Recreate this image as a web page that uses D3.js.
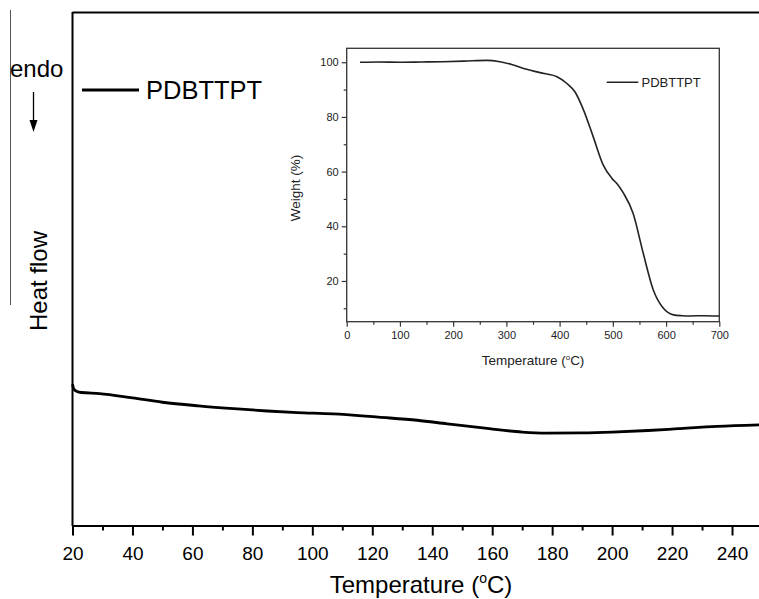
<!DOCTYPE html>
<html>
<head>
<meta charset="utf-8">
<script src="https://cdn.jsdelivr.net/npm/d3@7"></script>
<style>
  html, body { margin: 0; padding: 0; background: #fff; }
  svg { display: block; font-family: "Liberation Sans", Arial, sans-serif; }
</style>
</head>
<body>
<svg id="chart" width="759" height="599"></svg>
<script>
// DSC trace (main plot): temperature in °C, heat flow in arbitrary normalised units
const dscTemp = [20, 20.5, 21.5, 23, 29, 40, 50, 62, 75, 85, 95, 107, 122, 135, 145, 159, 170, 178, 190, 200, 212, 222, 235, 249];
const dscHeat = [27.5, 26.5, 26.1, 25.9, 25.7, 24.85, 24.0, 23.3, 22.7, 22.3, 22.0, 21.75, 21.1, 20.5, 19.8, 18.85, 18.2, 18.0, 18.05, 18.2, 18.5, 18.85, 19.3, 19.6];

// TGA trace (inset): temperature in °C, weight in %
const tgaTemp = [25, 60, 100, 140, 180, 220, 263, 288, 310, 338, 363, 395, 412, 429, 445, 463, 482, 498, 509, 520, 538, 557, 576, 595, 614, 630, 645, 670, 700];
const tgaWeight = [100, 100.1, 100.0, 100.1, 100.2, 100.4, 100.7, 100.2, 99.2, 97.4, 96.2, 94.7, 92.5, 89.1, 82.5, 72.8, 62.4, 57.6, 55.3, 52.1, 44.8, 30.2, 16.7, 10.0, 7.6, 7.3, 7.2, 7.3, 7.2];

// Tick values
const mainMajorTicks = [20, 40, 60, 80, 100, 120, 140, 160, 180, 200, 220, 240];
const mainMinorTicks = [30, 50, 70, 90, 110, 130, 150, 170, 190, 210, 230];
const insetXMajor = [0, 100, 200, 300, 400, 500, 600, 700];
const insetXMinor = [50, 150, 250, 350, 450, 550, 650];
const insetYMajor = [20, 40, 60, 80, 100];
const insetYMinor = [10, 30, 50, 70, 90];

const seriesName = "PDBTTPT";

const svg = d3.select("#chart");

// ---------- main DSC plot ----------
const x = d3.scaleLinear().domain([20, 249]).range([72.5, 759]);
const y = d3.scaleLinear().domain([0, 100]).range([525.5, 12]);

// stray frame line at far left
svg.append("line")
  .attr("x1", 10.5).attr("x2", 10.5).attr("y1", 10).attr("y2", 305)
  .attr("stroke", "#555").attr("stroke-width", 1);

// top frame line
svg.append("line")
  .attr("x1", 72.5).attr("x2", 759).attr("y1", 12.5).attr("y2", 12.5)
  .attr("stroke", "#000").attr("stroke-width", 2);

// left axis line
svg.append("line")
  .attr("x1", 72.5).attr("x2", 72.5).attr("y1", 12).attr("y2", 526)
  .attr("stroke", "#000").attr("stroke-width", 2);

// bottom axis: major ticks with labels
const xAxisMajor = svg.append("g")
  .attr("transform", "translate(0,525.5)")
  .call(d3.axisBottom(x).tickValues(mainMajorTicks).tickSize(10).tickSizeOuter(0).tickPadding(11));
xAxisMajor.select(".domain").attr("stroke-width", 2);
xAxisMajor.selectAll(".tick line").attr("stroke-width", 2);
xAxisMajor.selectAll("text").attr("font-size", 19).attr("fill", "#000")
  .attr("font-family", "Liberation Sans, Arial, sans-serif");

// bottom axis: minor ticks
const xAxisMinor = svg.append("g")
  .attr("transform", "translate(0,525.5)")
  .call(d3.axisBottom(x).tickValues(mainMinorTicks).tickSize(5).tickSizeOuter(0).tickFormat(""));
xAxisMinor.select(".domain").remove();
xAxisMinor.selectAll(".tick line").attr("stroke-width", 2);

// axis titles
const xTitle = svg.append("text")
  .attr("x", 421).attr("y", 593)
  .attr("text-anchor", "middle").attr("font-size", 24).attr("fill", "#000");
xTitle.append("tspan").text("Temperature (");
xTitle.append("tspan").attr("font-size", 14).attr("dy", -10).text("o");
xTitle.append("tspan").attr("dy", 10).text("C)");

svg.append("text")
  .attr("transform", "translate(46.5,281) rotate(-90)")
  .attr("text-anchor", "middle").attr("font-size", 24).attr("fill", "#000")
  .text("Heat flow");

// endo annotation with downward arrow
svg.append("text")
  .attr("x", 10).attr("y", 76.5)
  .attr("font-size", 24).attr("fill", "#000").text("endo");
svg.append("line")
  .attr("x1", 33.5).attr("x2", 33.5).attr("y1", 92).attr("y2", 124)
  .attr("stroke", "#000").attr("stroke-width", 1.3);
svg.append("path")
  .attr("d", "M29.5,120 L37.5,120 L33.5,132 Z")
  .attr("fill", "#000");

// legend
svg.append("line")
  .attr("x1", 82).attr("x2", 139).attr("y1", 90).attr("y2", 90)
  .attr("stroke", "#000").attr("stroke-width", 3);
svg.append("text")
  .attr("x", 146).attr("y", 99.3)
  .attr("font-size", 25.5).attr("fill", "#000").text(seriesName);

// DSC curve
const dscData = dscTemp.map((t, i) => ({ t, v: dscHeat[i] }));
svg.append("path")
  .datum(dscData)
  .attr("fill", "none").attr("stroke", "#000").attr("stroke-width", 2.8)
  .attr("stroke-linejoin", "round")
  .attr("d", d3.line().x(d => x(d.t)).y(d => y(d.v)).curve(d3.curveMonotoneX));

// ---------- inset TGA plot ----------
const ix = d3.scaleLinear().domain([0, 700]).range([346.7, 719.3]);
const iy = d3.scaleLinear().domain([5.1, 105.1]).range([321.7, 48.3]);
const insetColor = "#222";

svg.append("rect")
  .attr("x", ix(0)).attr("y", iy(105.1))
  .attr("width", ix(700) - ix(0)).attr("height", iy(5.1) - iy(105.1))
  .attr("fill", "none").attr("stroke", "#333").attr("stroke-width", 1.3);

function styleInsetAxis(g) {
  g.select(".domain").remove();
  g.selectAll(".tick line").attr("stroke", "#333").attr("stroke-width", 1.2);
  g.selectAll("text").attr("font-size", 11).attr("fill", insetColor)
    .attr("font-family", "Liberation Sans, Arial, sans-serif");
}

svg.append("g").attr("transform", `translate(0,${iy(5.1)})`)
  .call(d3.axisBottom(ix).tickValues(insetXMajor).tickSize(5).tickPadding(5).tickSizeOuter(0))
  .call(styleInsetAxis);
svg.append("g").attr("transform", `translate(0,${iy(5.1)})`)
  .call(d3.axisBottom(ix).tickValues(insetXMinor).tickSize(3).tickFormat("").tickSizeOuter(0))
  .call(styleInsetAxis);
svg.append("g").attr("transform", `translate(${ix(0)},0)`)
  .call(d3.axisLeft(iy).tickValues(insetYMajor).tickSize(5).tickPadding(3).tickSizeOuter(0))
  .call(styleInsetAxis);
svg.append("g").attr("transform", `translate(${ix(0)},0)`)
  .call(d3.axisLeft(iy).tickValues(insetYMinor).tickSize(3).tickFormat("").tickSizeOuter(0))
  .call(styleInsetAxis);

// inset axis titles
const ixTitle = svg.append("text")
  .attr("x", 533).attr("y", 365)
  .attr("text-anchor", "middle").attr("font-size", 13.5).attr("fill", insetColor);
ixTitle.append("tspan").text("Temperature (");
ixTitle.append("tspan").attr("font-size", 8).attr("dy", -5.5).text("o");
ixTitle.append("tspan").attr("dy", 5.5).text("C)");

svg.append("text")
  .attr("transform", "translate(299.5,188) rotate(-90)")
  .attr("text-anchor", "middle").attr("font-size", 13.5).attr("fill", insetColor)
  .text("Weight (%)");

// inset legend
svg.append("line")
  .attr("x1", 606.7).attr("x2", 638.3).attr("y1", 82.3).attr("y2", 82.3)
  .attr("stroke", insetColor).attr("stroke-width", 1.5);
svg.append("text")
  .attr("x", 641.5).attr("y", 87)
  .attr("font-size", 13).attr("fill", insetColor).text(seriesName);

// TGA curve
const tgaData = tgaTemp.map((t, i) => ({ t, v: tgaWeight[i] }));
svg.append("path")
  .datum(tgaData)
  .attr("fill", "none").attr("stroke", insetColor).attr("stroke-width", 1.6)
  .attr("stroke-linejoin", "round")
  .attr("d", d3.line().x(d => ix(d.t)).y(d => iy(d.v)).curve(d3.curveMonotoneX));
</script>
</body>
</html>
